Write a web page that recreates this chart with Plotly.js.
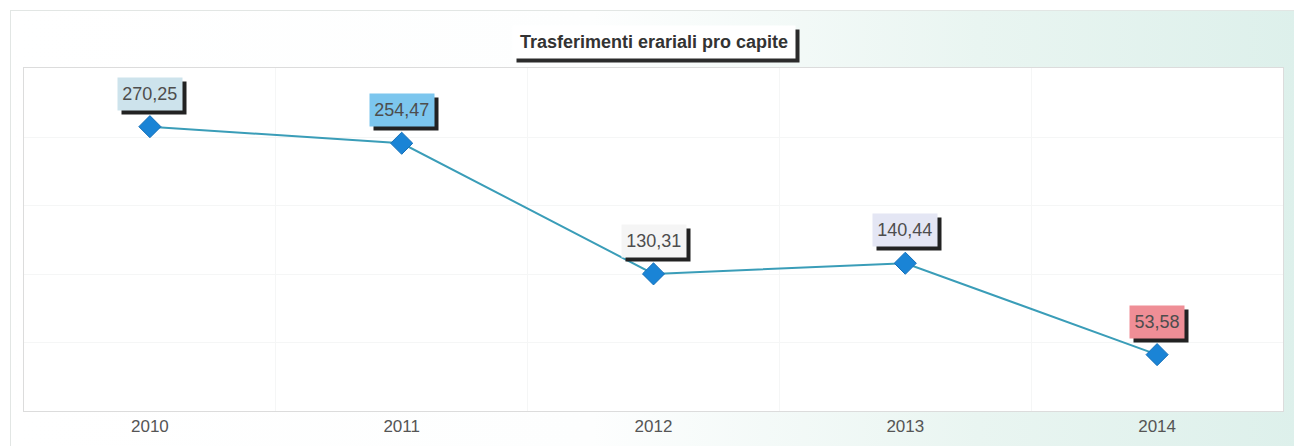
<!DOCTYPE html>
<html><head><meta charset="utf-8">
<script src="https://cdn.plot.ly/plotly-3.0.1.min.js"></script>
<style>
html,body{margin:0;padding:0;width:1294px;height:446px;overflow:hidden;background:#fff;}
#frame{position:absolute;left:10px;top:10px;width:1290px;height:446px;border-left:1px solid #e2e6e4;border-top:1px solid #e2e6e4;background:linear-gradient(to right,#ffffff 0%,#fdfefe 45%,#e9f5f1 75%,#ddf0eb 100%);}
#chart{position:absolute;left:0;top:0;width:1294px;height:446px;}
</style></head><body><div id="frame"></div><div id="chart"></div>
<script>
const years = ['2010', '2011', '2012', '2013', '2014'];
const values = [270.25, 254.47, 130.31, 140.44, 53.58];
const valueLabels = ['270,25', '254,47', '130,31', '140,44', '53,58'];
const labelColors = ['#cde3ec', '#7cc6ee', '#f5f5f5', '#e4e6f4', '#ef8e96'];
const chartTitle = 'Trasferimenti erariali pro capite';

const font = 'Liberation Sans, Arial, sans-serif';
const annotations = [];
// title box with shadow (shadow is an empty box of the same size)
annotations.push({xref:'paper', yref:'paper', x:0.5, y:1, yanchor:'middle', xanchor:'center',
  yshift:26-4, xshift:4, showarrow:false, text:' ', width:272, height:22,
  bgcolor:'#2b2b2b', borderpad:5});
annotations.push({xref:'paper', yref:'paper', x:0.5, y:1, yanchor:'middle', xanchor:'center',
  yshift:26, showarrow:false, text:'<b>'+chartTitle+'</b>', width:272, height:22,
  font:{family:font, size:18, color:'#333333'}, bgcolor:'#ffffff', borderpad:5});
years.forEach((yr, i) => {
  const w = valueLabels[i].length * 9.6;
  annotations.push({x:i, y:values[i], xref:'x', yref:'y', showarrow:false, yanchor:'bottom',
    yshift:16-4, xshift:4, text:' ', width:w, height:26,
    bgcolor:'#222', borderpad:3});
  annotations.push({x:i, y:values[i], xref:'x', yref:'y', showarrow:false, yanchor:'bottom',
    yshift:16, text:valueLabels[i], width:w, height:26, font:{family:font, size:18, color:'#4d4d4d'},
    bgcolor:labelColors[i], borderpad:3});
});

const trace = {
  x: years, y: values, type:'scatter', mode:'lines+markers',
  line:{color:'#3a9db8', width:2},
  marker:{symbol:'diamond', size:17, color:'#1a84d6', line:{color:'#1670b8', width:1}},
  hoverinfo:'skip'
};
const layout = {
  width:1294, height:446,
  margin:{l:24, r:11, t:68, b:35},
  paper_bgcolor:'rgba(0,0,0,0)', plot_bgcolor:'#ffffff',
  showlegend:false,
  xaxis:{type:'category', range:[-0.5, 4.5], showgrid:true, tickson:'boundaries',
    gridcolor:'#f5f6f6', ticks:'', showline:true, linecolor:'#dcdcdc', mirror:true,
    tickfont:{family:font, size:17, color:'#555'}, zeroline:false, fixedrange:true},
  yaxis:{range:[0, 326], showticklabels:false, showgrid:true, gridcolor:'#f5f6f6',
    tickvals:[65,130,195,260], zeroline:false, showline:true, linecolor:'#dcdcdc', mirror:true, fixedrange:true},
  annotations: annotations
};
Plotly.newPlot('chart', [trace], layout, {displayModeBar:false, staticPlot:true});
</script></body></html>
